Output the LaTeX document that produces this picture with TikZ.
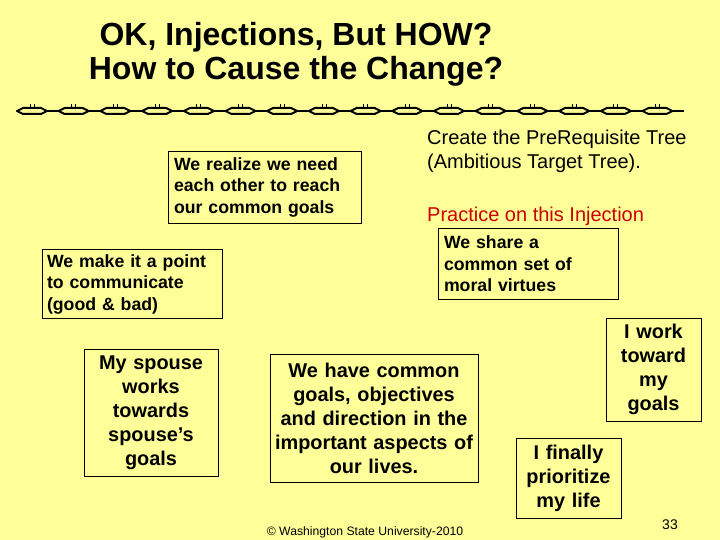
\documentclass[tikz,border=0pt]{standalone}
\usepackage{fontspec}
\setmainfont{Liberation Sans}
\definecolor{slide}{HTML}{FFFF99}
\definecolor{practice}{HTML}{CC0000}
\begin{document}
\begin{tikzpicture}[x=1pt,y=-1pt,
  box/.style={draw,fill=slide,line width=0.8pt,inner sep=0pt},
  small/.style={box,font=\fontsize{17.7}{21.5}\selectfont\bfseries,align=left},
  big/.style={box,font=\fontsize{19.9}{24}\selectfont\bfseries,align=center},
  plain/.style={font=\fontsize{20}{24}\selectfont,anchor=west,align=left,inner sep=0pt}]
\fill[slide] (0,0) rectangle (720,540);
\useasboundingbox (0,0) rectangle (720,540);

% title
\node[font=\fontsize{32}{34}\selectfont\bfseries] (t1) at (296,37) {OK, Injections, But HOW?};
\node[font=\fontsize{32}{34}\selectfont\bfseries] (t2) at (296,71) {How to Cause the Change?};

% chain rule
\draw[line width=2pt] (17,111) -- (684,111);
\foreach \i in {0,...,15} {
  \draw[line width=2pt,fill=slide,line join=round]
    ({17+41.7*\i},111) -- ({23+41.7*\i},108) -- ({41+41.7*\i},108)
    -- ({47+41.7*\i},111) -- ({41+41.7*\i},114) -- ({23+41.7*\i},114) -- cycle;
  \draw[line width=0.8pt] ({30+41.7*\i},107) -- ({30+41.7*\i},104)
                          ({34+41.7*\i},107) -- ({34+41.7*\i},104);
}

% side notes
\node[plain] (tree) at (427,151) {Create the PreRequisite Tree\\(Ambitious Target Tree).};
\node[plain,text=practice] (inj) at (427,216) {Practice on this Injection};

% boxes
\node[small,minimum width=193pt,minimum height=72pt,text width=181pt] (need) at (264.5,187)
  {We realize we need\\each other to reach\\our common goals};
\node[small,minimum width=180pt,minimum height=69pt,text width=170pt] (talk) at (132,284)
  {We make it a point\\to communicate\\(good \& bad)};
\node[small,minimum width=180pt,minimum height=71pt,text width=168pt] (moral) at (528,264)
  {We share a\\common set of\\moral virtues};
\node[big,minimum width=134pt,minimum height=127pt,text width=130pt] (spouse) at (151,412.5)
  {My spouse\\works\\towards\\spouse’s\\goals};
\node[big,minimum width=208pt,minimum height=128pt,text width=204pt] (common) at (374,418)
  {We have common\\goals, objectives\\and direction in the\\important aspects of\\our lives.};
\node[big,minimum width=95pt,minimum height=103pt,text width=93pt] (mine) at (653.5,369.5)
  {I work\\toward\\my\\goals};
\node[big,minimum width=105pt,minimum height=80pt,text width=103pt] (life) at (568.5,478)
  {I finally\\prioritize\\my life};

% footer
\node[font=\fontsize{12.2}{14}\selectfont] (wsu) at (365,532) {© Washington State University-2010};
\node[font=\fontsize{14}{16}\selectfont] (pg) at (670,525) {33};
\end{tikzpicture}
\end{document}
